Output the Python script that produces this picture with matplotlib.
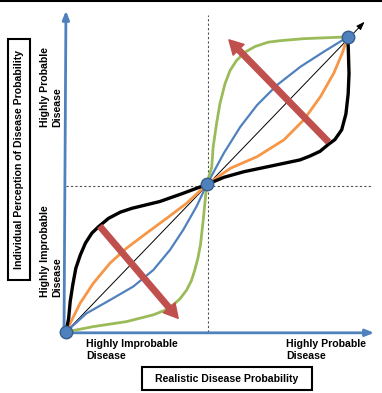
import matplotlib
matplotlib.use("Agg")
import matplotlib.pyplot as plt
from matplotlib.patches import FancyArrowPatch, Rectangle
from matplotlib.lines import Line2D

plt.rcParams['font.family'] = ['Liberation Sans Narrow', 'Liberation Sans', 'DejaVu Sans']

# curves (x = realistic, y = perceived), 0..1
black_x = [0, 0.0095, 0.015, 0.024, 0.035, 0.051, 0.069, 0.092, 0.116, 0.151, 0.193, 0.234,
           0.333, 0.416, 0.5, 0.560, 0.631, 0.726, 0.830, 0.865, 0.901, 0.930, 0.954,
           0.978, 0.993, 1.001, 1.004, 1.002, 1.0]
black_y = [0, 0.046, 0.103, 0.159, 0.216, 0.261, 0.301, 0.335, 0.357, 0.385, 0.406, 0.419,
           0.442, 0.470, 0.5, 0.524, 0.543, 0.562, 0.583, 0.596, 0.612, 0.635, 0.652,
           0.685, 0.739, 0.807, 0.875, 0.942, 1.0]

orange_x = [0, 0.050, 0.097, 0.156, 0.215, 0.286, 0.357, 0.428, 0.5,
            0.584, 0.678, 0.773, 0.844, 0.903, 0.950, 0.980, 1.0]
orange_y = [0, 0.097, 0.165, 0.233, 0.284, 0.335, 0.385, 0.436, 0.5,
            0.555, 0.594, 0.651, 0.719, 0.798, 0.877, 0.945, 1.0]

blue_x = [0, 0.073, 0.156, 0.239, 0.310, 0.369, 0.416, 0.463, 0.5,
          0.560, 0.619, 0.678, 0.749, 0.832, 0.915, 1.0]
blue_y = [0, 0.063, 0.108, 0.154, 0.210, 0.278, 0.346, 0.425, 0.5,
          0.606, 0.696, 0.769, 0.837, 0.899, 0.950, 1.0]

green_x = [0, 0.097, 0.215, 0.310, 0.350, 0.381, 0.405, 0.428, 0.445, 0.457, 0.468, 0.477,
           0.487, 0.495, 0.5, 0.508, 0.517, 0.522, 0.534, 0.546, 0.564, 0.582, 0.605,
           0.635, 0.670, 0.717, 0.759, 0.844, 1.0]
green_y = [0, 0.018, 0.035, 0.058, 0.073, 0.092, 0.113, 0.142, 0.174, 0.210, 0.250, 0.295,
           0.380, 0.459, 0.5, 0.530, 0.558, 0.626, 0.705, 0.773, 0.841, 0.886, 0.920,
           0.948, 0.967, 0.982, 0.987, 0.994, 1.0]

# red shift arrows: (start, end)
shift_arrows = [((0.121, 0.357), (0.398, 0.046)),
                ((0.930, 0.645), (0.578, 0.990))]

anchor_x = [0, 0.5, 1.0]
anchor_y = [0, 0.5, 1.0]

y_labels = ["Highly Probable\nDisease", "Highly Improbable\nDisease"]
x_labels = ["Highly Improbable\nDisease", "Highly Probable\nDisease"]
y_title = "Individual Perception of Disease Probability"
x_title = "Realistic Disease Probability"

BLUE = '#4F81BD'
ORANGE = '#F79646'
GREEN = '#9BBB59'
RED = '#C0504D'

fig = plt.figure(figsize=(3.82, 3.93), dpi=100)
ax = fig.add_axes([0, 0, 1, 1])
ax.set_xlim(-0.234, 1.121)
ax.set_ylim(-0.207, 1.125)
ax.axis('off')

# dashed guides through the middle point
ax.plot([0.504, 0.504], [0, 1.075], color='#505050', lw=0.8, ls=(0, (2, 2)), zorder=1)
ax.plot([0, 1.085], [0.495, 0.495], color='#505050', lw=0.8, ls=(0, (2, 2)), zorder=1)

# axes with arrows
ax.annotate('', xy=(0, 1.098), xytext=(-0.007, -0.003),
            arrowprops=dict(arrowstyle='-|>,head_length=0.5,head_width=0.2', color=BLUE, lw=2), zorder=2)
ax.annotate('', xy=(1.103, -0.003), xytext=(-0.007, -0.003),
            arrowprops=dict(arrowstyle='-|>,head_length=0.5,head_width=0.2', color=BLUE, lw=2), zorder=2)

# thin diagonal
ax.annotate('', xy=(1.066, 1.058), xytext=(0, 0),
            arrowprops=dict(arrowstyle='-|>,head_length=0.5,head_width=0.18', color='black', lw=0.7), zorder=3)

ax.plot(blue_x, blue_y, color=BLUE, lw=1.6, zorder=4, solid_joinstyle='round')
ax.plot(orange_x, orange_y, color=ORANGE, lw=2.0, zorder=4, solid_joinstyle='round')
ax.plot(green_x, green_y, color=GREEN, lw=2.0, zorder=4, solid_joinstyle='round')
ax.plot(black_x, black_y, color='black', lw=2.4, zorder=5, solid_joinstyle='round')

for start, end in shift_arrows:
    arr = FancyArrowPatch(start, end, arrowstyle='simple,head_length=1.0,head_width=1.1,tail_width=0.4',
                          mutation_scale=10, color=RED, shrinkA=0, shrinkB=0, zorder=6)
    ax.add_patch(arr)

ax.plot(anchor_x, anchor_y, 'o', ms=9, mfc=BLUE, mec='#385D8A', mew=1, zorder=7)

# side labels
ax.text(-0.053, 0.695, y_labels[0], rotation=90, ha='center', va='bottom',
        multialignment='left', fontsize=7.6, fontweight='bold', linespacing=1.25)
ax.text(-0.053, 0.119, y_labels[1], rotation=90, ha='center', va='bottom',
        multialignment='left', fontsize=7.6, fontweight='bold', linespacing=1.25)
ax.text(0.071, -0.024, x_labels[0], ha='left', va='top', fontsize=7.6, fontweight='bold', linespacing=1.25)
ax.text(0.780, -0.024, x_labels[1], ha='left', va='top', fontsize=7.6, fontweight='bold', linespacing=1.25)

# boxed titles
ax.add_patch(Rectangle((-0.206, 0.176), 0.078, 0.817, fill=False, ec='black', lw=1.5, clip_on=False))
ax.text(-0.167, 0.5845, y_title, rotation=90, ha='center', va='center', fontsize=7.6, fontweight='bold')
ax.add_patch(Rectangle((0.270, -0.197), 0.603, 0.078, fill=False, ec='black', lw=1.5, clip_on=False))
ax.text(0.571, -0.158, x_title, ha='center', va='center', fontsize=7.6, fontweight='bold')

fig.add_artist(Line2D([0, 1], [0.997, 0.997], color='black', lw=1.5, transform=fig.transFigure))

fig.savefig('out.png', dpi=100)
